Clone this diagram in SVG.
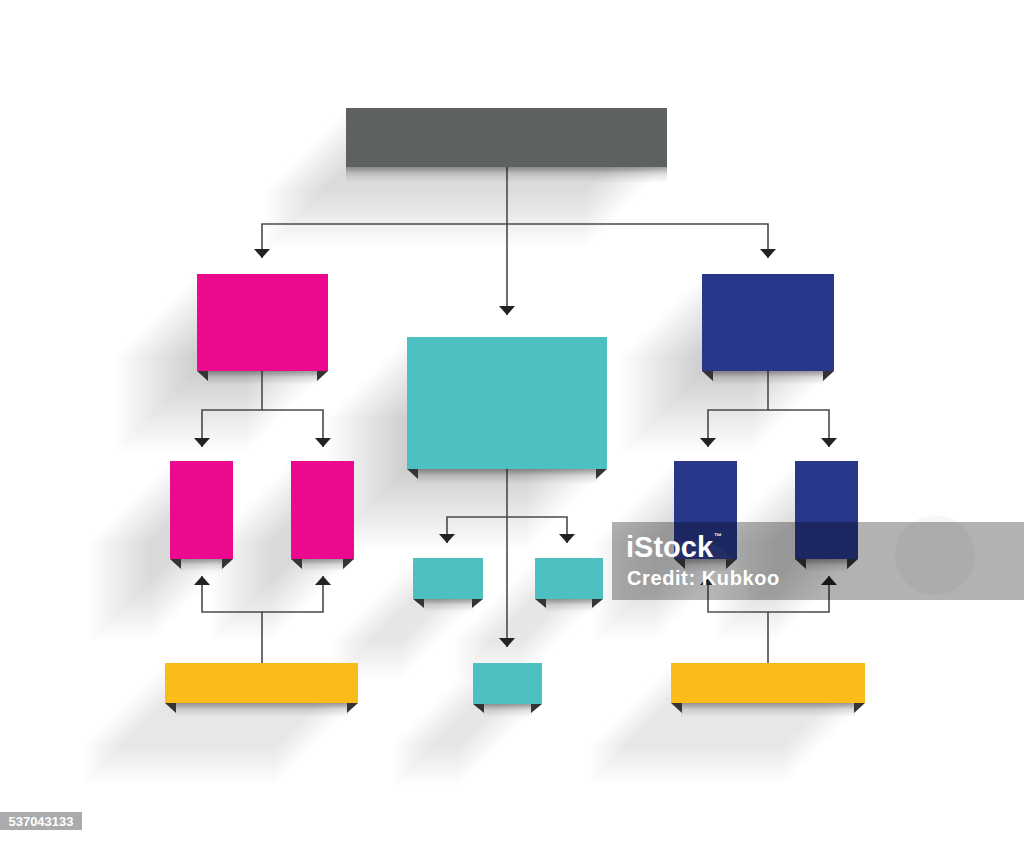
<svg xmlns="http://www.w3.org/2000/svg" xmlns:xlink="http://www.w3.org/1999/xlink" width="1024" height="841" viewBox="0 0 1024 841">
<style>
.conn{fill:none;stroke:#4a4a4a;stroke-width:1.6;marker-end:url(#arr)}
.corner{fill:#343434}
.band{fill:url(#bandG)}
.gray{fill:#5d6261}
.pink{fill:#ec098d}
.navy{fill:#29378a}
.teal{fill:#4dc1c1}
.yellow{fill:#fbbb19}
.sh{opacity:0.011}
.wm{font-family:"Liberation Sans",Arial,sans-serif;font-weight:bold;fill:#ffffff}
</style>
<defs>
<marker id="arr" viewBox="0 0 9 16" refX="9" refY="8" markerWidth="9" markerHeight="16" markerUnits="userSpaceOnUse" orient="auto">
<path d="M0,0 L9,8 L0,16 z" fill="#222"/>
</marker>
<linearGradient id="bandG" x1="0" y1="0" x2="0" y2="1">
<stop offset="0" stop-color="#000" stop-opacity="0.38"/>
<stop offset="0.45" stop-color="#000" stop-opacity="0.12"/>
<stop offset="1" stop-color="#000" stop-opacity="0"/>
</linearGradient>
<filter id="soft" x="-10%" y="-10%" width="120%" height="120%">
<feGaussianBlur stdDeviation="1.5"/>
</filter>
<g id="sil" fill="#000">
<rect x="346" y="108" width="321" height="59"/>
<rect x="197" y="274" width="131" height="97"/>
<rect x="407" y="337" width="200" height="132"/>
<rect x="702" y="274" width="132" height="97"/>
<rect x="170" y="461" width="63" height="98"/>
<rect x="291" y="461" width="63" height="98"/>
<rect x="674" y="461" width="63" height="98"/>
<rect x="795" y="461" width="63" height="98"/>
<rect x="413" y="558" width="70" height="41"/>
<rect x="535" y="558" width="68" height="41"/>
<rect x="473" y="663" width="69" height="41"/>
<rect x="165" y="663" width="193" height="40"/>
<rect x="671" y="663" width="194" height="40"/>
</g>
</defs>
<rect x="0" y="0" width="1024" height="841" fill="#ffffff"/>

<g id="shadows" filter="url(#soft)">
<use xlink:href="#sil" class="sh" transform="translate(-5,5)"/>
<use xlink:href="#sil" class="sh" transform="translate(-10,10)"/>
<use xlink:href="#sil" class="sh" transform="translate(-15,15)"/>
<use xlink:href="#sil" class="sh" transform="translate(-20,20)"/>
<use xlink:href="#sil" class="sh" transform="translate(-25,25)"/>
<use xlink:href="#sil" class="sh" transform="translate(-30,30)"/>
<use xlink:href="#sil" class="sh" transform="translate(-35,35)"/>
<use xlink:href="#sil" class="sh" transform="translate(-40,40)"/>
<use xlink:href="#sil" class="sh" transform="translate(-45,45)"/>
<use xlink:href="#sil" class="sh" transform="translate(-50,50)"/>
<use xlink:href="#sil" class="sh" transform="translate(-55,55)"/>
<use xlink:href="#sil" class="sh" transform="translate(-60,60)"/>
<use xlink:href="#sil" class="sh" transform="translate(-65,65)"/>
<use xlink:href="#sil" class="sh" transform="translate(-70,70)"/>
<use xlink:href="#sil" class="sh" transform="translate(-75,75)"/>
<use xlink:href="#sil" class="sh" transform="translate(-80,80)"/>
</g>

<g id="connectors">
<path class="conn" d="M507,167 V315"/>
<path class="conn" d="M507,224 H262 V258"/>
<path class="conn" d="M507,224 H768 V258"/>
<path class="conn" d="M262,371 V410 H202 V447"/>
<path class="conn" d="M262,410 H323 V447"/>
<path class="conn" d="M768,371 V410 H708 V447"/>
<path class="conn" d="M768,410 H829 V447"/>
<path class="conn" d="M507,469 V647"/>
<path class="conn" d="M507,517 H447 V543"/>
<path class="conn" d="M507,517 H567 V543"/>
<path class="conn" d="M262,663 V612 H202 V576"/>
<path class="conn" d="M262,612 H323 V576"/>
<path class="conn" d="M768,663 V612 H708 V576"/>
<path class="conn" d="M768,612 H829 V576"/>
</g>

<g id="node-top">
<rect class="band" x="346" y="167" width="321" height="16"/>
<rect class="gray" x="346" y="108" width="321" height="59"/>
</g>

<g id="node-pink-main">
<rect class="band" x="207" y="371" width="111" height="14"/>
<polygon class="corner" points="197,371 208,371 208,381"/>
<polygon class="corner" points="328,371 317,371 317,381"/>
<rect class="pink" x="197" y="274" width="131" height="97"/>
</g>

<g id="node-teal-main">
<rect class="band" x="417" y="469" width="180" height="15"/>
<polygon class="corner" points="407,469 418,469 418,479"/>
<polygon class="corner" points="607,469 596,469 596,479"/>
<rect class="teal" x="407" y="337" width="200" height="132"/>
</g>

<g id="node-navy-main">
<rect class="band" x="712" y="371" width="112" height="14"/>
<polygon class="corner" points="702,371 713,371 713,381"/>
<polygon class="corner" points="834,371 823,371 823,381"/>
<rect class="navy" x="702" y="274" width="132" height="97"/>
</g>

<g id="node-pink-1">
<rect class="band" x="180" y="559" width="43" height="13"/>
<polygon class="corner" points="170,559 181,559 181,569"/>
<polygon class="corner" points="233,559 222,559 222,569"/>
<rect class="pink" x="170" y="461" width="63" height="98"/>
</g>

<g id="node-pink-2">
<rect class="band" x="301" y="559" width="43" height="13"/>
<polygon class="corner" points="291,559 302,559 302,569"/>
<polygon class="corner" points="354,559 343,559 343,569"/>
<rect class="pink" x="291" y="461" width="63" height="98"/>
</g>

<g id="node-navy-1">
<rect class="band" x="684" y="559" width="43" height="13"/>
<polygon class="corner" points="674,559 685,559 685,569"/>
<polygon class="corner" points="737,559 726,559 726,569"/>
<rect class="navy" x="674" y="461" width="63" height="98"/>
</g>

<g id="node-navy-2">
<rect class="band" x="805" y="559" width="43" height="13"/>
<polygon class="corner" points="795,559 806,559 806,569"/>
<polygon class="corner" points="858,559 847,559 847,569"/>
<rect class="navy" x="795" y="461" width="63" height="98"/>
</g>

<g id="node-teal-1">
<rect class="band" x="423" y="599" width="50" height="13"/>
<polygon class="corner" points="413,599 424,599 424,608"/>
<polygon class="corner" points="483,599 472,599 472,608"/>
<rect class="teal" x="413" y="558" width="70" height="41"/>
</g>

<g id="node-teal-2">
<rect class="band" x="545" y="599" width="48" height="13"/>
<polygon class="corner" points="535,599 546,599 546,608"/>
<polygon class="corner" points="603,599 592,599 592,608"/>
<rect class="teal" x="535" y="558" width="68" height="41"/>
</g>

<g id="node-teal-3">
<rect class="band" x="483" y="704" width="49" height="13"/>
<polygon class="corner" points="473,704 484,704 484,713"/>
<polygon class="corner" points="542,704 531,704 531,713"/>
<rect class="teal" x="473" y="663" width="69" height="41"/>
</g>

<g id="node-yellow-left">
<rect class="band" x="175" y="703" width="173" height="14"/>
<polygon class="corner" points="165,703 176,703 176,713"/>
<polygon class="corner" points="358,703 347,703 347,713"/>
<rect class="yellow" x="165" y="663" width="193" height="40"/>
</g>

<g id="node-yellow-right">
<rect class="band" x="681" y="703" width="174" height="14"/>
<polygon class="corner" points="671,703 682,703 682,713"/>
<polygon class="corner" points="865,703 854,703 854,713"/>
<rect class="yellow" x="671" y="663" width="194" height="40"/>
</g>

<g id="watermark">
<rect x="612" y="522" width="412" height="78" fill="#000" opacity="0.3"/>
<circle cx="690" cy="600" r="60" fill="#fff" opacity="0.04"/>
<circle cx="935" cy="555" r="40" fill="#000" opacity="0.03"/>
<text class="wm" x="626" y="557" font-size="29">iStock</text>
<text class="wm" x="714" y="539" font-size="8">™</text>
<text class="wm" x="627" y="585" font-size="20" letter-spacing="0.6">Credit: Kubkoo</text>
</g>

<g id="image-id">
<rect x="0" y="812" width="82" height="18" fill="#a9abac"/>
<text class="wm" x="41" y="826" font-size="13" text-anchor="middle">537043133</text>
</g>
</svg>
